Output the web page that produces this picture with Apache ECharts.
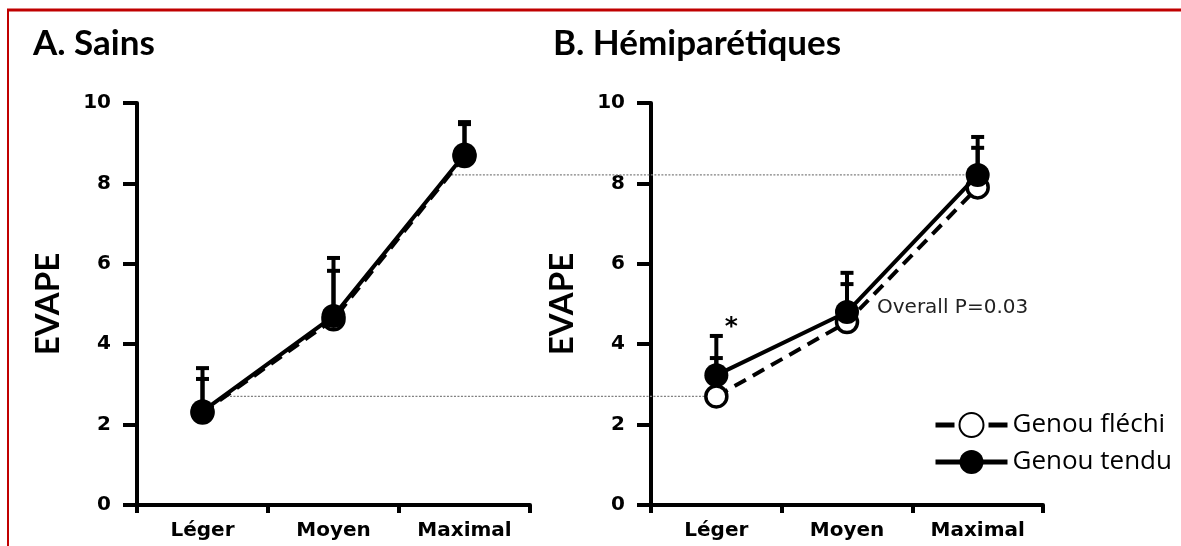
<!DOCTYPE html>
<html>
<head>
<meta charset="utf-8">
<script src="https://cdn.jsdelivr.net/npm/echarts@6/dist/echarts.min.js"></script>
<style>
  html, body { margin: 0; padding: 0; background: #fff; }
  #chart { width: 1181px; height: 546px; }
</style>
</head>
<body>
<div id="chart"></div>
<script>
// Effort ratings (EVAPE) by contraction level, knee flexed vs knee extended
const categories = ['Léger', 'Moyen', 'Maximal'];
const yTickValues = [0, 2, 4, 6, 8, 10];

// A. Sains
const sainsFlechi = [2.30, 4.62, 8.68];
const sainsFlechiSD = [0.86, 1.23, 0.82];
const sainsTendu = [2.33, 4.70, 8.72];
const sainsTenduSD = [1.10, 1.47, 0.83];

// B. Hémiparétiques
const hemiFlechi = [2.70, 4.55, 7.90];
const hemiFlechiSD = [0.98, 0.97, 1.01];
const hemiTendu = [3.23, 4.80, 8.21];
const hemiTenduSD = [1.00, 1.00, 0.97];

const seriesNames = ['Genou fléchi', 'Genou tendu'];
const panelTitles = ['A. Sains', 'B. Hémiparétiques'];
const yAxisTitle = 'EVAPE';
const pValueText = 'Overall P=0.03';
const starText = '*';

const chart = echarts.init(document.getElementById('chart'), null, { renderer: 'canvas' });

const tickFont = { fontFamily: 'DejaVu Sans', fontWeight: 'bold', fontSize: 20, color: '#000' };

function makeXAxis(gridIndex) {
  return {
    type: 'category', gridIndex, data: categories, boundaryGap: true,
    axisLine: { show: true, lineStyle: { color: '#000', width: 4 } },
    axisTick: { show: true, interval: 0, length: 8, lineStyle: { color: '#000', width: 4 } },
    axisLabel: Object.assign({ margin: 16, interval: 0 }, tickFont),
    splitLine: { show: false }
  };
}
function makeYAxis(gridIndex, nameGap) {
  return {
    type: 'value', gridIndex, min: yTickValues[0], max: yTickValues[yTickValues.length - 1],
    interval: yTickValues[1] - yTickValues[0],
    name: yAxisTitle, nameLocation: 'middle', nameGap, nameRotate: 90,
    nameTextStyle: { fontFamily: 'Lato', fontWeight: 'bold', fontSize: 33, color: '#000' },
    axisLine: { show: true, onZero: false, lineStyle: { color: '#000', width: 4 } },
    axisTick: { show: true, length: 14, lineStyle: { color: '#000', width: 4 } },
    axisLabel: Object.assign({ margin: 26 }, tickFont),
    splitLine: { show: false }
  };
}

function lineSeries(name, values, panel) {
  const flexed = name === seriesNames[0];
  return {
    type: 'line', name, xAxisIndex: panel, yAxisIndex: panel,
    data: values, symbol: 'circle', symbolSize: flexed ? 21 : 24,
    lineStyle: flexed ? { color: '#000', width: 4, type: [13, 8] } : { color: '#000', width: 4, type: 'solid' },
    itemStyle: flexed ? { color: '#fff', borderColor: '#000', borderWidth: 3.5 } : { color: '#000', borderColor: '#000', borderWidth: 0 },
    z: flexed ? 3 : 4, silent: true
  };
}

function errorSeries(values, sds, panel) {
  return {
    type: 'custom', xAxisIndex: panel, yAxisIndex: panel, silent: true, z: 2,
    data: values.map((v, i) => [i, v, v + sds[i]]),
    renderItem: function (params, api) {
      const base = api.coord([api.value(0), api.value(1)]);
      const top = api.coord([api.value(0), api.value(2)]);
      const hw = 6.5;
      return {
        type: 'group',
        children: [
          { type: 'line', shape: { x1: base[0], y1: base[1], x2: top[0], y2: top[1] }, style: { stroke: '#000', lineWidth: 4 } },
          { type: 'line', shape: { x1: top[0] - hw, y1: top[1] + 1, x2: top[0] + hw, y2: top[1] + 1 }, style: { stroke: '#000', lineWidth: 4 } }
        ]
      };
    }
  };
}

chart.setOption({
  animation: false,
  backgroundColor: '#fff',
  grid: [
    { left: 137, width: 393, top: 103, bottom: 41, containLabel: false },
    { left: 651, width: 392, top: 103, bottom: 41, containLabel: false }
  ],
  xAxis: [makeXAxis(0), makeXAxis(1)],
  yAxis: [makeYAxis(0, 72), makeYAxis(1, 72)],
  legend: {
    orient: 'vertical', left: 933, top: 412, padding: 0,
    itemWidth: 72, itemHeight: 30, itemGap: 11, selectedMode: false,
    data: [
      { name: seriesNames[0], lineStyle: { width: 5, type: [19, 34] } },
      { name: seriesNames[1], lineStyle: { width: 5 } }
    ],
    textStyle: { fontFamily: 'Open Sans', fontSize: 26, color: '#000' }
  },
  series: [
    errorSeries(sainsFlechi, sainsFlechiSD, 0),
    errorSeries(sainsTendu, sainsTenduSD, 0),
    lineSeries(seriesNames[0], sainsFlechi, 0),
    lineSeries(seriesNames[1], sainsTendu, 0),
    errorSeries(hemiFlechi, hemiFlechiSD, 1),
    errorSeries(hemiTendu, hemiTenduSD, 1),
    lineSeries(seriesNames[0], hemiFlechi, 1),
    lineSeries(seriesNames[1], hemiTendu, 1)
  ]
});

// Helpers to place annotations from data values
function px(panel, idx, val) {
  return chart.convertToPixel({ xAxisIndex: panel, yAxisIndex: panel }, [idx, val]);
}
// x position where the healthy-group curve reaches a given value
function crossingX(values, target) {
  for (let i = 0; i < values.length - 1; i++) {
    const a = values[i], b = values[i + 1];
    if ((target - a) * (target - b) <= 0) {
      const t = (target - a) / (b - a);
      const p0 = px(0, i, a), p1 = px(0, i + 1, b);
      return p0[0] + t * (p1[0] - p0[0]);
    }
  }
  return px(0, 0, target)[0];
}

// Dotted comparison lines from panel A curve to panel B points
const refLines = [
  { value: hemiFlechi[0], idx: 0 },
  { value: hemiTendu[2], idx: 2 }
];
const graphics = refLines.map(r => {
  const end = px(1, r.idx, r.value);
  const x0 = crossingX(sainsTendu, r.value);
  return {
    type: 'line', z: 1,
    shape: { x1: x0, y1: end[1], x2: end[0], y2: end[1] },
    style: { stroke: '#808080', lineWidth: 1.3, lineDash: [2, 1.5] }
  };
});

// Significance marker and overall p-value
const starAnchor = px(1, 0, hemiTendu[0] + hemiTenduSD[0]);
graphics.push({
  type: 'text', z: 10, x: starAnchor[0] + 15, y: starAnchor[1] - 7,
  style: { text: starText, fontFamily: 'DejaVu Sans', fontWeight: 'bold', fontSize: 25, fill: '#000', align: 'center', verticalAlign: 'middle' }
});
const pAnchor = px(1, 1, hemiTendu[1]);
graphics.push({
  type: 'text', z: 10, x: pAnchor[0] + 30, y: pAnchor[1] - 4,
  style: { text: pValueText, fontFamily: 'DejaVu Sans', fontSize: 20, fill: '#222', align: 'left', verticalAlign: 'middle' }
});

// Panel titles
graphics.push({
  type: 'text', x: 33, y: 44,
  style: { text: panelTitles[0], fontFamily: 'Lato', fontWeight: 'bold', fontSize: 35, fill: '#000', align: 'left', verticalAlign: 'middle' }
});
graphics.push({
  type: 'text', x: 553, y: 44,
  style: { text: panelTitles[1], fontFamily: 'Lato', fontWeight: 'bold', fontSize: 35, fill: '#000', align: 'left', verticalAlign: 'middle' }
});

// Red frame (top and left edges)
graphics.push({ type: 'line', shape: { x1: 7, y1: 10, x2: 1181, y2: 10 }, style: { stroke: '#c00000', lineWidth: 3 } });
graphics.push({ type: 'line', shape: { x1: 8, y1: 9, x2: 8, y2: 546 }, style: { stroke: '#c00000', lineWidth: 2 } });

chart.setOption({ graphic: graphics });
</script>
</body>
</html>
